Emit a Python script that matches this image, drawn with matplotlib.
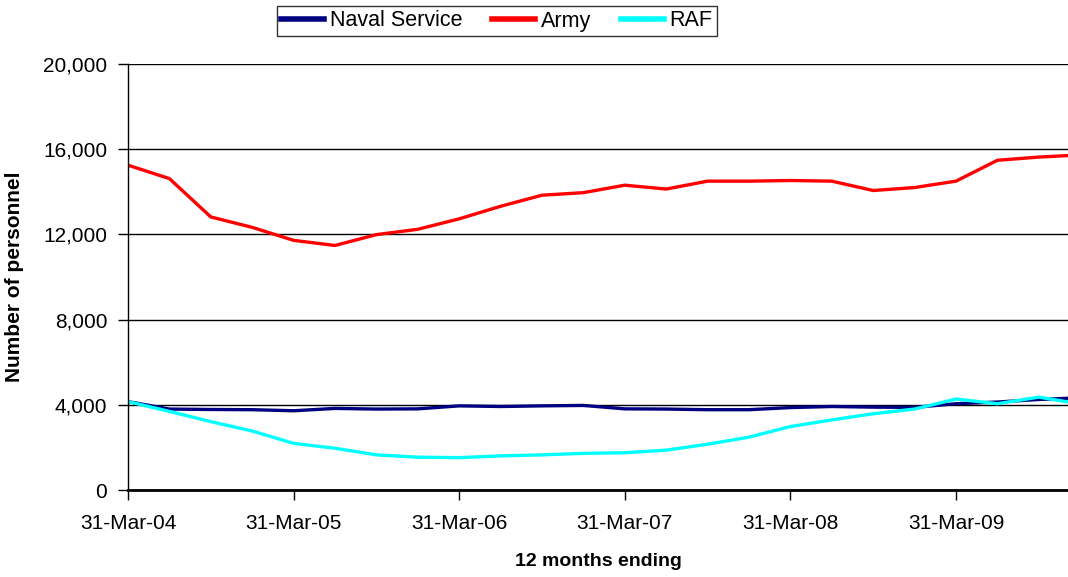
import numpy as np
import matplotlib.pyplot as plt
from matplotlib.ticker import FuncFormatter

plt.rcParams['font.family'] = ['Liberation Sans', 'DejaVu Sans']

# quarterly, 31-Mar-04 .. 31-Dec-09
quarters = ['31-Mar-04', '30-Jun-04', '30-Sep-04', '31-Dec-04',
            '31-Mar-05', '30-Jun-05', '30-Sep-05', '31-Dec-05',
            '31-Mar-06', '30-Jun-06', '30-Sep-06', '31-Dec-06',
            '31-Mar-07', '30-Jun-07', '30-Sep-07', '31-Dec-07',
            '31-Mar-08', '30-Jun-08', '30-Sep-08', '31-Dec-08',
            '31-Mar-09', '30-Jun-09', '30-Sep-09', '31-Dec-09']

naval = [4150, 3800, 3780, 3770, 3720, 3830, 3800, 3810,
         3950, 3920, 3950, 3970, 3810, 3800, 3770, 3770,
         3870, 3920, 3890, 3880, 4050, 4130, 4250, 4330]
army = [15250, 14620, 12820, 12330, 11720, 11480, 11990, 12240,
        12730, 13320, 13840, 13960, 14310, 14130, 14500, 14500,
        14530, 14500, 14060, 14200, 14500, 15480, 15630, 15730]
raf = [4150, 3690, 3210, 2770, 2190, 1960, 1650, 1540,
       1520, 1600, 1650, 1720, 1750, 1870, 2150, 2480,
       2980, 3290, 3580, 3800, 4270, 4050, 4360, 4040]

x = np.arange(len(quarters))

fig = plt.figure(figsize=(10.68, 5.77), dpi=100)
ax = fig.add_axes([128 / 1068, 1 - 490 / 577, 1 - 128 / 1068, (490 - 64) / 577])

ax.plot(x, naval, color='#000080', lw=2.4, label='Naval Service')
ax.plot(x, army, color='#FF0000', lw=2.4, label='Army')
ax.plot(x, raf, color='#00FFFF', lw=2.4, label='RAF')

ax.set_ylim(0, 20000)
ax.set_yticks(np.arange(0, 20001, 4000))
ax.yaxis.set_major_formatter(FuncFormatter(lambda v, p: f'{int(v):,}'))
ax.set_xlim(0, (1068 - 128) / 41.4)
ax.set_xticks(x[::4])
ax.set_xticklabels(quarters[::4])

ax.grid(axis='y', color='black', lw=1)
ax.set_axisbelow(True)
for s in ['top', 'right']:
    ax.spines[s].set_visible(False)
ax.spines['left'].set_linewidth(1)
ax.spines['bottom'].set_linewidth(2)
ax.tick_params(axis='both', direction='out', length=7, width=1,
               labelsize=15, colors='black')
ax.tick_params(axis='y', pad=8)
ax.tick_params(axis='x', pad=10)

ax.set_ylabel('Number of personnel', fontsize=15, fontweight='bold', labelpad=14)
ax.set_xlabel('12 months ending', fontsize=14, fontweight='bold', labelpad=15)

leg = fig.legend(loc='center', bbox_to_anchor=(497 / 1068, 1 - 21 / 577), ncol=3,
                 fontsize=15.5, frameon=True, fancybox=False, edgecolor='black',
                 handlelength=2.0, handletextpad=0.25, columnspacing=1.4,
                 borderpad=0.2, borderaxespad=0)
leg.get_frame().set_linewidth(1)
for h in leg.get_lines():
    h.set_linewidth(4)

fig.savefig('out.png', dpi=100)
